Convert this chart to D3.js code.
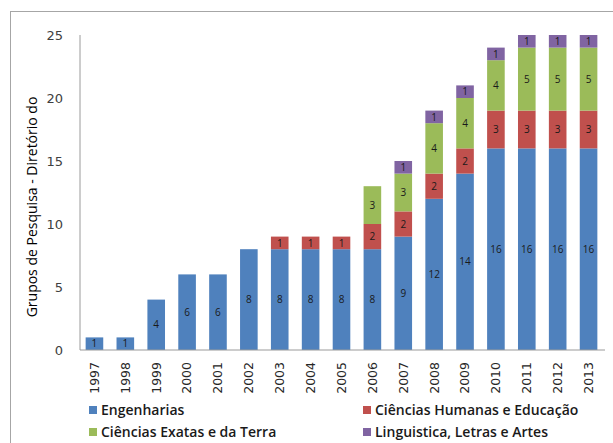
<!DOCTYPE html>
<html>
<head>
<meta charset="utf-8">
<script src="https://cdn.jsdelivr.net/npm/d3@7"></script>
<style>
  body { margin: 0; background: #fff; }
  svg { display: block; font-family: "Open Sans", sans-serif; }
</style>
</head>
<body>
<div id="chart"></div>
<script>
// data
var years = ["1997", "1998", "1999", "2000", "2001", "2002", "2003", "2004", "2005",
             "2006", "2007", "2008", "2009", "2010", "2011", "2012", "2013"];
var engenharias = [1, 1, 4, 6, 6, 8, 8, 8, 8, 8, 9, 12, 14, 16, 16, 16, 16];
var humanas     = [0, 0, 0, 0, 0, 0, 1, 1, 1, 2, 2, 2, 2, 3, 3, 3, 3];
var exatas      = [0, 0, 0, 0, 0, 0, 0, 0, 0, 3, 3, 4, 4, 4, 5, 5, 5];
var linguistica = [0, 0, 0, 0, 0, 0, 0, 0, 0, 0, 1, 1, 1, 1, 1, 1, 1];
var seriesNames = ["Engenharias", "Ciências Humanas e Educação", "Ciências Exatas e da Terra", "Linguistica, Letras e Artes"];
var yTicks = [0, 5, 10, 15, 20, 25];

var keys = ["eng", "hum", "exa", "lin"];
var colors = d3.scaleOrdinal().domain(keys).range(["#4f81bd", "#c0504d", "#9bbb59", "#8064a2"]);

var dataset = years.map(function (y, i) {
    return { year: y, eng: engenharias[i], hum: humanas[i], exa: exatas[i], lin: linguistica[i] };
});

var w = 613, h = 443;

var svg = d3.select("#chart").append("svg").attr("width", w).attr("height", h);

// outer frame
svg.append("rect")
    .attr("x", 10.5).attr("y", 11.5)
    .attr("width", 640).attr("height", 460)
    .attr("fill", "none").attr("stroke", "#a6a6a6");

var xScale = d3.scaleBand().domain(years).range([79, 604]).paddingInner(0.43).paddingOuter(0.215);
var yScale = d3.scaleLinear().domain([0, 25]).range([350, 35]);

var series = d3.stack().keys(keys)(dataset);

var groups = svg.selectAll("g.serie").data(series).enter().append("g")
    .attr("class", "serie")
    .style("fill", function (d) { return colors(d.key); });

groups.selectAll("rect")
    .data(function (d) { return d.filter(function (p) { return p[1] - p[0] > 0; }); })
    .enter().append("rect")
    .attr("x", function (d) { return xScale(d.data.year); })
    .attr("y", function (d) { return yScale(d[1]); })
    .attr("width", xScale.bandwidth())
    .attr("height", function (d) { return yScale(d[0]) - yScale(d[1]); });

// value labels inside segments
groups.selectAll("text")
    .data(function (d) { return d.filter(function (p) { return p[1] - p[0] > 0; }); })
    .enter().append("text")
    .attr("x", function (d) { return xScale(d.data.year) + xScale.bandwidth() / 2; })
    .attr("y", function (d) { return (yScale(d[0]) + yScale(d[1])) / 2; })
    .attr("dy", "0.36em")
    .attr("text-anchor", "middle")
    .attr("font-size", "10px")
    .attr("fill", "#1a1a1a")
    .text(function (d) { return d[1] - d[0]; });

// y axis
var yAxis = d3.axisLeft(yScale).tickValues(yTicks).tickSize(0).tickPadding(17);
var gy = svg.append("g").attr("transform", "translate(80,0)").call(yAxis);
gy.select(".domain").attr("stroke", "#9a9a9a").attr("d", "M0,350V35");
gy.selectAll("text").attr("font-size", "13px").attr("fill", "#404040").attr("font-family", "DejaVu Sans, sans-serif");

// x axis
var xAxis = d3.axisBottom(xScale).tickSize(0).tickPadding(0);
var gx = svg.append("g").attr("transform", "translate(0,350)").call(xAxis);
gx.select(".domain").attr("stroke", "#9a9a9a").attr("d", "M80,0H605");
gx.selectAll("text")
    .attr("transform", "rotate(-90)")
    .attr("x", -12).attr("y", 0).attr("dy", "0.35em")
    .attr("text-anchor", "end")
    .attr("font-size", "12.5px")
    .attr("fill", "#262626")
    .attr("font-family", "DejaVu Sans, sans-serif");

// y title
svg.append("text")
    .attr("transform", "translate(32,207) rotate(-90)")
    .attr("text-anchor", "middle")
    .attr("dy", "0.35em")
    .attr("font-size", "14px")
    .attr("font-weight", 500)
    .attr("fill", "#000")
    .text("Grupos de Pesquisa - Diretório do");

// legend
var legendPos = [[89, 410], [363, 410], [89, 432], [363, 432]];
var legend = svg.selectAll("g.legend").data(keys).enter().append("g")
    .attr("class", "legend")
    .attr("transform", function (d, i) { return "translate(" + legendPos[i][0] + "," + legendPos[i][1] + ")"; });
legend.append("rect").attr("x", 0).attr("y", -4).attr("width", 8).attr("height", 8)
    .attr("fill", function (d) { return colors(d); });
legend.append("text").attr("x", 12).attr("dy", "0.35em")
    .attr("font-size", "14px").attr("font-weight", 600).attr("fill", "#1a1a1a")
    .text(function (d, i) { return seriesNames[i]; });
</script>
</body>
</html>
